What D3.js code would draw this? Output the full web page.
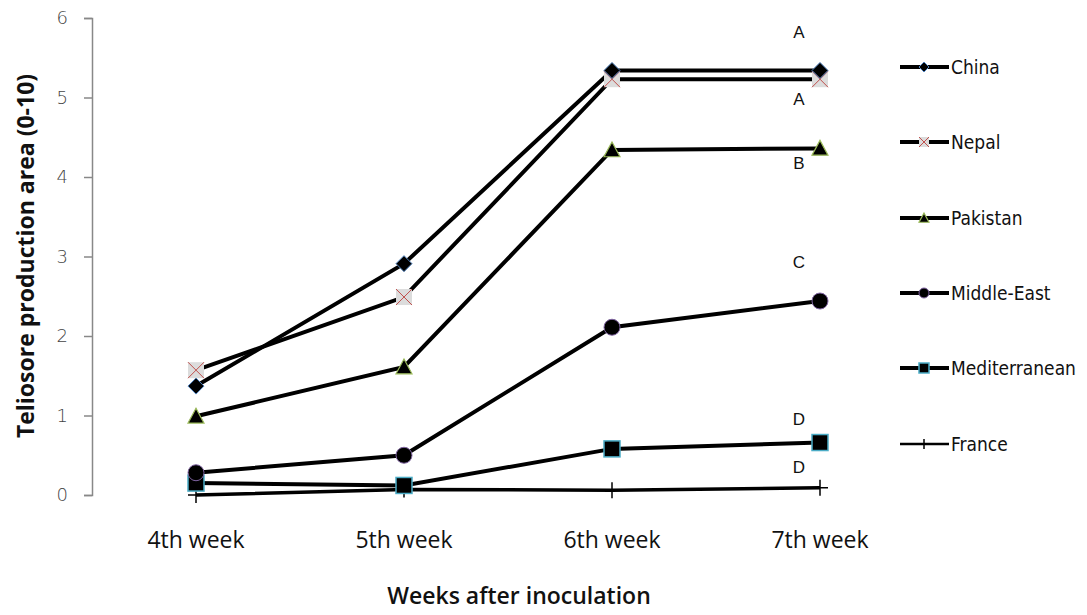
<!DOCTYPE html>
<html><head><meta charset="utf-8">
<script src="https://cdnjs.cloudflare.com/ajax/libs/d3/7.8.5/d3.min.js"></script>
<style>body{margin:0;background:#fff;}svg{display:block;}</style>
</head><body>
<script>
const weeks = ["4th week","5th week","6th week","7th week"];
const seriesNames = ["China","Nepal","Pakistan","Middle-East","Mediterranean","France"];
const china = [1.37, 2.91, 5.34, 5.34];
const nepal = [1.57, 2.49, 5.23, 5.23];
const pakistan = [0.99, 1.61, 4.34, 4.36];
const middleEast = [0.28, 0.50, 2.11, 2.44];
const mediterranean = [0.15, 0.12, 0.58, 0.66];
const france = [0.00, 0.07, 0.06, 0.09];
const yTicks = [0,1,2,3,4,5,6];
const letters = ["A","A","B","C","D","D"];
const letterValues = [5.75, 4.9, 4.1, 2.85, 0.88, 0.28];

const W = 1087, H = 615;
const svg = d3.select("body").append("svg").attr("width", W).attr("height", H);
const x = d3.scaleBand().domain(weeks).range([92, 924]);
const cx = d => x(d) + x.bandwidth()/2;
const y = d3.scaleLinear().domain([0,6]).range([495,18]);

// y axis
const yAxis = d3.axisLeft(y).tickValues(yTicks).tickSize(8).tickPadding(16).tickFormat(d3.format("d"));
const ga = svg.append("g").attr("transform","translate(92,0)").call(yAxis);
ga.select(".domain").attr("stroke","#888").attr("stroke-width",1.5);
ga.selectAll(".tick line").attr("stroke","#888").attr("stroke-width",1.5);
ga.selectAll(".tick text").attr("fill","#444").style("font-family","DejaVu Sans").style("font-size","18px").style("font-weight","300");

// x labels
svg.append("g").selectAll("text").data(weeks).join("text")
  .attr("x", d=>cx(d)).attr("y", 548).attr("text-anchor","middle")
  .style("font-family","Open Sans").style("font-size","23px").attr("fill","#111")
  .text(d=>d);

svg.append("text").attr("x", 519).attr("y", 604).attr("text-anchor","middle")
  .style("font-family","Open Sans").style("font-size","23px").style("font-weight","600").attr("fill","#111")
  .text("Weeks after inoculation");

svg.append("text").attr("transform","translate(34,256) rotate(-90)").attr("text-anchor","middle")
  .style("font-family","Open Sans").style("font-size","23px").style("font-weight","700").attr("fill","#111")
  .text("Teliosore production area (0-10)");

const series = [
  {name:"China", vals:china, marker:"diamond", stroke:"#4f81bd", fill:"#000", lw:4},
  {name:"Nepal", vals:nepal, marker:"xsquare", stroke:"#c0504d", fill:"#dcdcdc", lw:4},
  {name:"Pakistan", vals:pakistan, marker:"triangle", stroke:"#9bbb59", fill:"#000", lw:4},
  {name:"Middle-East", vals:middleEast, marker:"circle", stroke:"#8064a2", fill:"#000", lw:4},
  {name:"Mediterranean", vals:mediterranean, marker:"square", stroke:"#4bacc6", fill:"#000", lw:4},
  {name:"France", vals:france, marker:"plus", stroke:"#000", fill:"#000", lw:3.5}
];

function drawMarker(g, type, px, py, s, st, fi){
  if(type==="diamond"){
    g.append("path").attr("d",`M${px},${py-s}L${px+s},${py}L${px},${py+s}L${px-s},${py}Z`).attr("fill",fi).attr("stroke",st).attr("stroke-width",1);
  } else if(type==="xsquare"){
    g.append("rect").attr("x",px-s).attr("y",py-s).attr("width",2*s).attr("height",2*s).attr("fill",fi);
    g.append("path").attr("d",`M${px-s},${py-s}L${px+s},${py+s}M${px+s},${py-s}L${px-s},${py+s}`).attr("stroke",st).attr("stroke-width",1);
  } else if(type==="triangle"){
    g.append("path").attr("d",`M${px},${py-s}L${px+s},${py+s*0.85}L${px-s},${py+s*0.85}Z`).attr("fill",fi).attr("stroke",st).attr("stroke-width",1.2);
  } else if(type==="circle"){
    g.append("circle").attr("cx",px).attr("cy",py).attr("r",s).attr("fill",fi).attr("stroke",st).attr("stroke-width",1);
  } else if(type==="square"){
    g.append("rect").attr("x",px-s).attr("y",py-s).attr("width",2*s).attr("height",2*s).attr("fill",fi).attr("stroke",st).attr("stroke-width",1.5);
  } else if(type==="plus"){
    g.append("path").attr("d",`M${px-s},${py}L${px+s},${py}M${px},${py-s}L${px},${py+s}`).attr("stroke",st).attr("stroke-width",1.5);
  }
}
const sizes = {diamond:8, xsquare:8, triangle:8, circle:8, square:8, plus:8};

const line = d3.line().x((v,i)=>cx(weeks[i])).y(v=>y(v));
const plot = svg.append("g");
series.slice().reverse().forEach(s=>{
  plot.append("path").datum(s.vals).attr("d", line).attr("fill","none").attr("stroke","#000").attr("stroke-width",s.lw);
});
series.slice().reverse().forEach(s=>{
  s.vals.forEach((v,i)=> drawMarker(plot, s.marker, cx(weeks[i]), y(v), sizes[s.marker], s.stroke, s.fill));
});

// letters
svg.append("g").selectAll("text").data(letters).join("text")
  .attr("x", 799).attr("y",(d,i)=>y(letterValues[i])).attr("text-anchor","middle")
  .style("font-family","Liberation Sans").style("font-size","17px").attr("fill","#111")
  .text(d=>d);

// legend
const legY = [67,142,218,293,368,444];
const leg = svg.append("g");
series.forEach((s,i)=>{
  const ly = legY[i];
  leg.append("line").attr("x1",900).attr("x2",949).attr("y1",ly).attr("y2",ly).attr("stroke","#000").attr("stroke-width", s.name==="France"?2.5:4);
  drawMarker(leg, s.marker, 924, ly, 5, s.stroke, s.fill);
  leg.append("text").attr("x",951).attr("y",ly).attr("dy","0.35em")
    .style("font-family","DejaVu Sans Condensed, DejaVu Sans").style("font-size","19px").attr("fill","#111").text(s.name);
});
</script>
</body></html>
